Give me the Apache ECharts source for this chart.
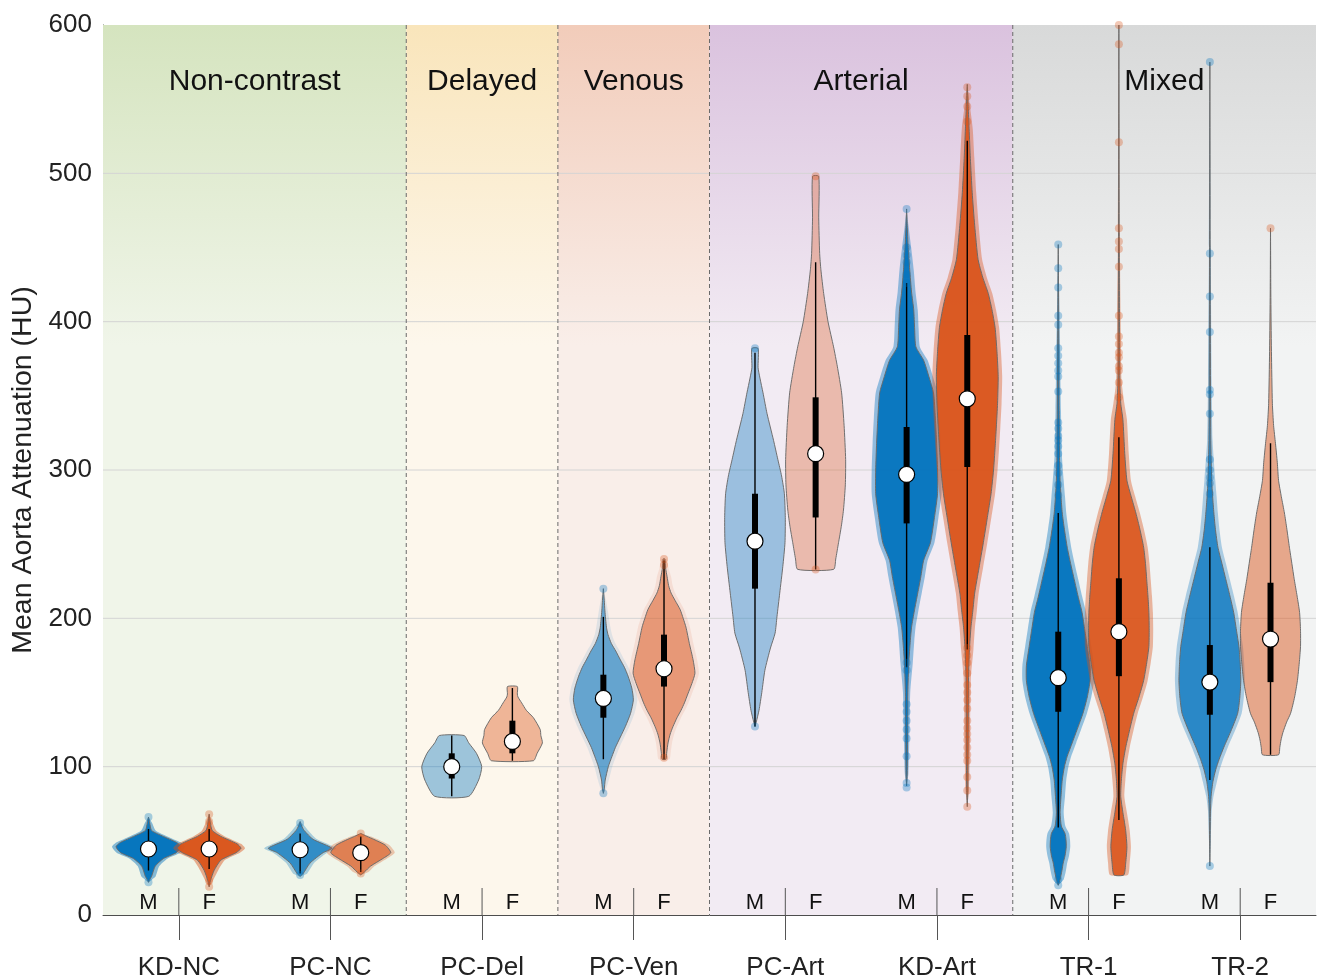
<!DOCTYPE html>
<html>
<head>
<meta charset="utf-8">
<script src="https://cdn.jsdelivr.net/npm/echarts@6/dist/echarts.min.js"></script>
<style>
html, body { margin: 0; padding: 0; background: #ffffff; }
#chart { width: 1322px; height: 980px; }
</style>
</head>
<body>
<div id="chart"></div>
<script>
// ---------- data ----------
const groups = ['KD-NC', 'PC-NC', 'PC-Del', 'PC-Ven', 'PC-Art', 'KD-Art', 'TR-1', 'TR-2'];
const sexes = ['M', 'F'];
const phaseNames = ['Non-contrast', 'Delayed', 'Venous', 'Arterial', 'Mixed'];
const phaseFirstGroup = [0, 2, 3, 4, 6];
const phaseLastGroup = [1, 2, 3, 5, 7];
const yTicks = [0, 100, 200, 300, 400, 500, 600];

// kernel density profiles: [HU, relative half-width]
const kdNcM = [[22,0],[24,0.04],[26,0.1],[33,0.22],[38,0.48],[42,0.9],[46,1.05],[49,0.9],[53,0.48],[57,0.1],[62,0.04],[66,0]];
const kdNcF = [[19,0],[23,0.04],[30,0.16],[37,0.38],[42,0.87],[45,1.03],[48,0.9],[53,0.38],[57,0.1],[62,0.04],[68,0]];
const pcNcM = [[26,0],[28,0.1],[35,0.32],[42,0.74],[45,1.03],[51,0.42],[57,0.13],[60,0.05],[63,0]];
const pcNcF = [[27,0],[29,0.12],[33,0.32],[38,0.71],[42,0.97],[47,0.8],[51,0.42],[53,0.2],[55,0]];
const pcDelM = [[80,0.55],[91,0.87],[100,0.97],[109,0.8],[116,0.55],[121,0.4]];
const pcDelF = [[104,0.68],[109,0.8],[116,0.97],[121,0.92],[125,0.9],[133,0.68],[138,0.45],[143,0.3],[147,0.18],[149,0.16],[154,0.16]];
const pcVenM = [[82,0],[85,0.03],[91,0.06],[100,0.16],[107,0.28],[113,0.39],[120,0.55],[127,0.71],[136,0.88],[145,0.97],[153,0.92],[161,0.8],[167,0.68],[172,0.55],[178,0.4],[183,0.26],[189,0.15],[194,0.1],[205,0.05],[212,0.03],[220,0]];
const pcVenF = [[105,0.06],[110,0.09],[116,0.13],[122,0.2],[127,0.29],[133,0.42],[138,0.55],[143,0.66],[149,0.77],[156,0.9],[163,1.0],[172,0.94],[183,0.82],[194,0.71],[200,0.62],[206,0.52],[212,0.36],[217,0.23],[222,0.15],[228,0.1],[234,0.05],[240,0.03]];
const pcArtM = [[127,0],[130,0.04],[138,0.13],[150,0.22],[165,0.32],[180,0.5],[190,0.65],[201,0.71],[217,0.8],[235,0.9],[251,0.97],[268,0.98],[284,0.95],[296,0.86],[307,0.74],[320,0.6],[338,0.39],[352,0.26],[362,0.16],[369,0.1],[382,0.1]];
const pcArtF = [[233,0.58],[240,0.65],[251,0.74],[262,0.83],[273,0.9],[290,0.96],[307,0.97],[330,0.92],[352,0.84],[370,0.7],[383,0.58],[400,0.4],[419,0.26],[435,0.17],[446,0.13],[470,0.1],[498,0.1]];
const kdArtM = [[87,0],[95,0.02],[120,0.03],[150,0.04],[170,0.07],[185,0.12],[194,0.16],[205,0.25],[217,0.36],[228,0.46],[239,0.55],[251,0.77],[268,0.9],[284,1.0],[300,1.0],[318,0.97],[335,0.93],[352,0.87],[363,0.72],[374,0.55],[383,0.3],[395,0.26],[408,0.23],[420,0.16],[435,0.1],[450,0.05],[465,0.02],[476,0]];
const kdArtF = [[73,0],[85,0.02],[120,0.03],[160,0.04],[179,0.07],[194,0.12],[205,0.18],[217,0.24],[234,0.38],[251,0.52],[268,0.65],[284,0.77],[300,0.85],[315,0.9],[329,0.94],[345,0.98],[363,1.0],[380,0.96],[396,0.9],[408,0.8],[419,0.68],[430,0.5],[442,0.35],[465,0.24],[487,0.16],[510,0.1],[530,0.06],[545,0.03],[560,0]];
const trOneM = [[20,0],[24,0.06],[30,0.12],[35,0.16],[40,0.22],[46,0.26],[51,0.25],[55,0.22],[60,0.1],[69,0.06],[80,0.09],[91,0.13],[100,0.2],[107,0.29],[116,0.45],[125,0.61],[136,0.8],[147,0.94],[158,1.03],[168,1.03],[181,0.94],[192,0.86],[204,0.77],[215,0.64],[226,0.52],[237,0.4],[248,0.29],[260,0.2],[271,0.13],[282,0.09],[293,0.06],[310,0.04],[340,0.03],[380,0.02],[420,0.01],[452,0]];
const trOneF = [[27,0.16],[35,0.22],[46,0.26],[57,0.22],[64,0.17],[69,0.13],[80,0.06],[91,0.08],[102,0.13],[113,0.22],[125,0.35],[136,0.48],[147,0.65],[158,0.8],[170,0.9],[181,0.97],[193,0.98],[204,0.97],[215,0.94],[226,0.9],[237,0.86],[248,0.8],[260,0.68],[271,0.55],[282,0.4],[293,0.26],[311,0.19],[334,0.13],[345,0.06],[360,0.03],[400,0.02],[460,0.01],[600,0]];
const trTwoM = [[33,0],[50,0.01],[70,0.02],[80,0.04],[90,0.1],[98,0.19],[105,0.3],[113,0.45],[125,0.7],[136,0.9],[147,0.97],[158,1.0],[170,0.98],[181,0.94],[192,0.86],[204,0.77],[215,0.65],[226,0.52],[237,0.39],[248,0.26],[260,0.18],[271,0.13],[282,0.09],[293,0.06],[320,0.03],[360,0.02],[450,0.01],[575,0]];
const trTwoF = [[108,0.26],[113,0.3],[118,0.34],[123,0.4],[130,0.52],[136,0.65],[147,0.78],[158,0.87],[170,0.93],[181,0.97],[192,0.97],[204,0.94],[215,0.86],[226,0.77],[237,0.69],[248,0.61],[260,0.53],[271,0.45],[282,0.35],[293,0.26],[305,0.22],[318,0.16],[330,0.1],[345,0.06],[380,0.03],[420,0.01],[463,0]];

// box statistics per group, [M, F]: [lower whisker, Q1, median, Q3, upper whisker]
const boxKdNc  = [[30, 41, 44.5, 48, 58], [31, 41, 44.5, 48, 58]];
const boxPcNc  = [[28, 41, 44, 47, 55], [29, 39, 42, 45, 53]];
const boxPcDel = [[80, 92, 100, 109, 121], [104, 109, 117, 131, 153]];
const boxPcVen = [[105, 133, 146, 162, 201], [105, 154, 166, 189, 239]];
const boxPcArt = [[127, 220, 252, 284, 379], [233, 268, 311, 349, 440]];
const boxKdArt = [[167, 264, 297, 329, 426], [179, 302, 348, 391, 522]];
const boxTrOne = [[59, 137, 160, 191, 271], [64, 161, 191, 227, 322]];
const boxTrTwo = [[91, 135, 157, 182, 248], [108, 157, 186, 224, 318]];

// individual measurements lying on the thin tails
const tailKdNcM = [66, 22];
const tailKdNcF = [68, 63, 19, 23];
const tailPcNcM = [62, 27];
const tailPcNcF = [55, 28];
const tailPcVenM = [220, 82];
const tailPcVenF = [240, 236, 106];
const tailPcArtM = [382, 127];
const tailPcArtF = [498, 233];
const tailKdArtM = [476, 450, 445, 440, 432, 426, 170, 165, 142, 137, 131, 125, 119, 107, 89, 86];
const tailKdArtF = [558, 552, 545, 535, 180, 175, 170, 163, 155, 150, 145, 139, 131, 126, 122, 118, 113, 108, 104, 93, 84, 73];
const tailTrOneM = [452, 436, 423, 404, 398, 382, 377, 372, 367, 363, 353, 332, 328, 323, 320, 316, 311, 303, 298, 290, 283, 24, 20];
const tailTrOneF = [600, 587, 521, 463, 454, 449, 437, 404, 390, 385, 379, 376, 370, 367, 359, 349];
const tailTrTwoM = [575, 446, 417, 393, 354, 351, 338, 307, 300, 295, 291, 284, 33];
const tailTrTwoF = [463];

// ---------- assembly ----------
const profiles = [[kdNcM, kdNcF], [pcNcM, pcNcF], [pcDelM, pcDelF], [pcVenM, pcVenF],
                  [pcArtM, pcArtF], [kdArtM, kdArtF], [trOneM, trOneF], [trTwoM, trTwoF]];
const boxes = [boxKdNc, boxPcNc, boxPcDel, boxPcVen, boxPcArt, boxKdArt, boxTrOne, boxTrTwo];
const tails = [[tailKdNcM, tailKdNcF], [tailPcNcM, tailPcNcF], [[], []], [tailPcVenM, tailPcVenF],
               [tailPcArtM, tailPcArtF], [tailKdArtM, tailKdArtF], [tailTrOneM, tailTrOneF], [tailTrTwoM, tailTrTwoF]];

// ---------- style ----------
const FONT = "'Liberation Sans', Arial, Helvetica, sans-serif";
const sexRGB = ['0,114,189', '217,83,25'];
const fillAlpha = [[0.95, 0.95], [0.7, 0.6], [0.38, 0.4], [0.55, 0.5], [0.36, 0.32], [0.92, 0.92], [0.93, 0.88], [0.75, 0.48]];
const haloAlpha = [[0.45, 0.45], [0.3, 0.3], [0, 0], [0.1, 0.1], [0, 0], [0.4, 0.4], [0.4, 0.4], [0.3, 0]];
const bandTop = ['#d5e4bf', '#f9e5bb', '#f2ccba', '#dac2de', '#d8d9d9'];
const bandBottom = ['#f0f5e9', '#fdf7ec', '#f9eee9', '#f2ebf3', '#f2f3f3'];
const HALF_WIDTH = 0.204;      // widest half-violin, in group units
const SEX_OFFSET = [0.3, 0.7]; // position of M / F inside a group

function violinPath(api, prof, cx, halfPx, pad) {
  const right = [], left = [];
  prof.forEach(function (pt) {
    const p = api.coord([cx, pt[0]]);
    const extra = pad ? Math.min(pad, pt[1] * 60) : 0;
    const w = pt[1] * halfPx + extra;
    right.push([p[0] + w, p[1]]);
    left.push([p[0] - w, p[1]]);
  });
  return right.concat(left.reverse());
}

function renderBand(params, api) {
  const i = api.value(0);
  const x0 = phaseFirstGroup[i], x1 = phaseLastGroup[i] + 1;
  const yMax = yTicks[yTicks.length - 1], yMin = yTicks[0];
  const tl = api.coord([x0, yMax]);
  const br = api.coord([x1, yMin]);
  const children = [{
    type: 'rect',
    shape: { x: tl[0], y: tl[1], width: br[0] - tl[0], height: br[1] - tl[1] },
    style: {
      fill: { type: 'linear', x: 0, y: 0, x2: 0, y2: 1,
        colorStops: [{ offset: 0, color: bandTop[i] }, { offset: 0.36, color: bandBottom[i] }, { offset: 1, color: bandBottom[i] }] }
    }
  }];
  yTicks.forEach(function (t) {
    if (t === yMin || t === yMax) return;
    const a = api.coord([x0, t]), b = api.coord([x1, t]);
    children.push({ type: 'line', shape: { x1: a[0], y1: a[1], x2: b[0], y2: b[1] },
      style: { stroke: '#d4d4d4', lineWidth: 1 } });
  });
  if (x0 > 0) {
    children.push({ type: 'line', shape: { x1: tl[0], y1: tl[1], x2: tl[0], y2: br[1] },
      style: { stroke: '#6a6a6a', lineWidth: 1, lineDash: [4, 3] } });
  }
  const mid = api.coord([(x0 + x1) / 2, yMax]);
  children.push({ type: 'text', style: { text: phaseNames[i], x: mid[0], y: mid[1] + 57,
    textAlign: 'center', textVerticalAlign: 'middle', align: 'center', verticalAlign: 'middle',
    font: '30px ' + FONT, fill: '#111111' } });
  return { type: 'group', children: children };
}

function renderViolin(params, api) {
  const g = api.value(0), s = api.value(1);
  const prof = profiles[g][s], box = boxes[g][s];
  const cx = g + SEX_OFFSET[s];
  const halfPx = HALF_WIDTH * api.size([1, 0])[0];
  const children = [];
  if (haloAlpha[g][s] > 0) {
    children.push({ type: 'polygon', shape: { points: violinPath(api, prof, cx, halfPx, 4), smooth: 0.2 },
      style: { fill: 'rgba(' + sexRGB[s] + ',' + haloAlpha[g][s] + ')' } });
  }
  children.push({ type: 'polygon', shape: { points: violinPath(api, prof, cx, halfPx, 0), smooth: 0.2 },
    style: { fill: 'rgba(' + sexRGB[s] + ',' + fillAlpha[g][s] + ')', stroke: 'rgba(105,105,105,0.95)', lineWidth: 1 } });
  const lo = api.coord([cx, box[0]]), q1 = api.coord([cx, box[1]]), md = api.coord([cx, box[2]]),
        q3 = api.coord([cx, box[3]]), hi = api.coord([cx, box[4]]);
  children.push({ type: 'line', shape: { x1: lo[0], y1: lo[1], x2: hi[0], y2: hi[1] },
    style: { stroke: '#000000', lineWidth: 1.4 } });
  children.push({ type: 'rect', shape: { x: q3[0] - 3, y: q3[1], width: 6, height: q1[1] - q3[1] },
    style: { fill: '#000000' } });
  children.push({ type: 'circle', shape: { cx: md[0], cy: md[1], r: 8 },
    style: { fill: '#ffffff', stroke: '#000000', lineWidth: 1.2 } });
  return { type: 'group', children: children };
}

function renderSexLabels(params, api) {
  const g = api.value(0);
  const base = api.coord([g + 0.5, yTicks[0]]);
  const children = [{ type: 'line', shape: { x1: base[0], y1: base[1] - 27, x2: base[0], y2: base[1] },
    style: { stroke: '#555555', lineWidth: 1 } }];
  sexes.forEach(function (lab, s) {
    const p = api.coord([g + SEX_OFFSET[s], yTicks[0]]);
    children.push({ type: 'text', style: { text: lab, x: p[0], y: p[1] - 12,
      textAlign: 'center', textVerticalAlign: 'middle', align: 'center', verticalAlign: 'middle',
      font: '22px ' + FONT, fill: '#111111' } });
  });
  return { type: 'group', children: children };
}

const violinData = [];
const tailData = [[], []];
groups.forEach(function (name, g) {
  sexes.forEach(function (lab, s) {
    violinData.push([g, s]);
    tails[g][s].forEach(function (v) { tailData[s].push([g + SEX_OFFSET[s], v]); });
  });
});

const chart = echarts.init(document.getElementById('chart'), null, { renderer: 'canvas' });
chart.setOption({
  animation: false,
  backgroundColor: '#ffffff',
  grid: { left: 103, right: 6, top: 25, bottom: 65, containLabel: false, outerBoundsMode: 'none' },
  xAxis: [{
    type: 'category', data: groups, boundaryGap: true, position: 'bottom',
    axisLine: { show: true, lineStyle: { color: '#4d4d4d', width: 1 } },
    axisTick: { show: true, alignWithLabel: true, length: 25, lineStyle: { color: '#555555' } },
    axisLabel: { fontSize: 26, color: '#222222', fontFamily: FONT, margin: 40 },
    splitLine: { show: false }
  }, {
    type: 'value', min: 0, max: groups.length, show: false
  }],
  yAxis: [{
    type: 'value', min: yTicks[0], max: yTicks[yTicks.length - 1], interval: 100,
    name: 'Mean Aorta Attenuation (HU)', nameLocation: 'middle', nameGap: 62,
    nameTextStyle: { fontSize: 28.5, color: '#222222', fontFamily: FONT },
    axisLine: { show: true, lineStyle: { color: '#4d4d4d', width: 1 } },
    axisTick: { show: true, inside: true, length: 10, lineStyle: { color: '#4d4d4d' } },
    axisLabel: { fontSize: 26, color: '#222222', fontFamily: FONT, margin: 11 },
    splitLine: { show: false }
  }],
  series: [{
    type: 'custom', name: 'phases', xAxisIndex: 1, yAxisIndex: 0, silent: true, z: 1,
    data: phaseNames.map(function (n, i) { return [i, 0]; }),
    renderItem: renderBand
  }, {
    type: 'custom', name: 'sex labels', xAxisIndex: 1, yAxisIndex: 0, silent: true, z: 2,
    data: groups.map(function (n, g) { return [g, 0]; }),
    renderItem: renderSexLabels
  }, {
    type: 'custom', name: 'violins', xAxisIndex: 1, yAxisIndex: 0, silent: true, z: 3,
    data: violinData,
    renderItem: renderViolin
  }, {
    type: 'scatter', name: 'M tails', xAxisIndex: 1, yAxisIndex: 0, silent: true, z: 4,
    symbolSize: 8, data: tailData[0],
    itemStyle: { color: 'rgba(' + sexRGB[0] + ',0.4)' }
  }, {
    type: 'scatter', name: 'F tails', xAxisIndex: 1, yAxisIndex: 0, silent: true, z: 4,
    symbolSize: 8, data: tailData[1],
    itemStyle: { color: 'rgba(' + sexRGB[1] + ',0.4)' }
  }]
});
</script>
</body>
</html>
